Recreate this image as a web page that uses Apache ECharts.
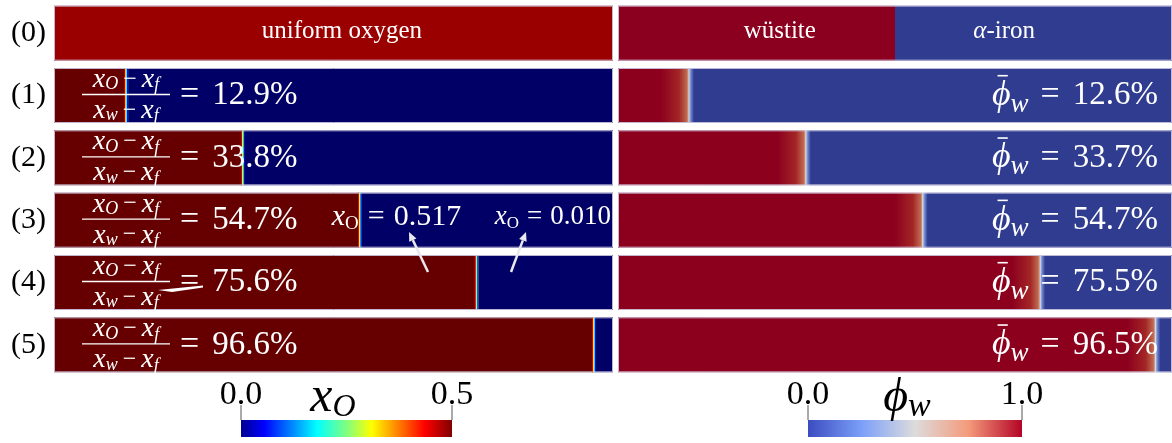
<!DOCTYPE html>
<html><head><meta charset="utf-8">
<script src="https://cdn.jsdelivr.net/npm/echarts@6/dist/echarts.min.js"></script>
<style>html,body{margin:0;padding:0;background:#fff}#c{width:1172px;height:443px}</style>
</head><body><div id="c"></div>
<script>
// ---------------- data ----------------
const rowLabels = ['(0)', '(1)', '(2)', '(3)', '(4)', '(5)'];
const oxygenFront = [100, 12.9, 33.8, 54.7, 75.6, 96.6];      // % of length where x_O drops
const oxygenRatio = ['', '12.9%', '33.8%', '54.7%', '75.6%', '96.6%'];
const wustiteFront = [50, 12.8, 33.9, 55.0, 76.2, 97.0];      // % of length of wüstite front
const wustiteFraction = ['', '12.6%', '33.7%', '54.7%', '75.5%', '96.5%'];
const row0Left = 'uniform oxygen';
const row0Right = ['wüstite', 'α', '-iron'];
const markerValues = ['0.517', '0.010'];
const xoTicks = ['0.0', '0.5'];
const phiTicks = ['0.0', '1.0'];

// ---------------- helpers ----------------
const FAM = 'Liberation Serif';
const ctx = document.createElement('canvas').getContext('2d');
function fontStr(p) { return (p.it ? 'italic ' : '') + p.s + 'px "' + FAM + '"'; }
function mathText(x, y, parts, align, fill) {
  fill = fill || '#fff';
  let w = 0;
  parts.forEach(p => { ctx.font = fontStr(p); p.tw = ctx.measureText(p.t).width; p.w = p.tw + (p.pre || 0) + (p.post || 0); w += p.w; });
  let cx = align === 'right' ? x - w : align === 'center' ? x - w / 2 : x;
  const els = [];
  parts.forEach(p => {
    const tx = cx + (p.pre || 0);
    els.push({ type: 'text', silent: true, style: { legacy: false, x: tx, y: y + (p.dy || 0), text: p.t, fontFamily: FAM, fontSize: p.s, fontStyle: p.it ? 'italic' : 'normal', fill: fill, align: 'left', verticalAlign: 'middle' } });
    if (p.bar) {
      const by = y + (p.dy || 0) - p.s * 0.55;
      els.push({ type: 'line', silent: true, shape: { x1: tx + p.tw * 0.3, y1: by, x2: tx + p.tw * 0.85, y2: by }, style: { stroke: fill, lineWidth: 1.6 } });
    }
    cx += p.w;
  });
  return els;
}
function rect(x, y, w, h, fill) {
  return { type: 'rect', silent: true, shape: { x: x, y: y, width: w, height: h }, style: { fill: fill } };
}
function outline(x, y, w, h) {
  return { type: 'rect', silent: true, shape: { x: x + 0.5, y: y + 0.5, width: w - 1, height: h - 1 }, style: { fill: 'none', stroke: 'rgba(205,200,225,0.9)', lineWidth: 1 } };
}
const LG = (stops) => new echarts.graphic.LinearGradient(0, 0, 1, 0, stops.map(s => ({ offset: s[0], color: s[1] })));
const BAR_H = 55;
const frac = (sub) => [{ t: 'x', s: 28, it: 1 }, { t: sub, s: 18, it: 1, dy: 5 }, { t: '−', s: 24, pre: 5, post: 5 }, { t: 'x', s: 28, it: 1 }, { t: 'f', s: 18, it: 1, dy: 6 }];

function renderLeft(params, api) {
  const i = api.value(0), p = api.value(1);
  const s = api.coord([0, i]), x0 = s[0], yc = s[1];
  const x1 = api.coord([100, i])[0];
  const y = yc - BAR_H / 2;
  const ch = [];
  if (i === 0) {
    ch.push(rect(x0, y, x1 - x0, BAR_H, '#9b0000'));
    ch.push(outline(x0, y, x1 - x0, BAR_H));
    ch.push(...mathText(x0 + (x1 - x0) * 0.515, yc - 2, [{ t: row0Left, s: 25 }], 'center'));
  } else {
    const xm = api.coord([p, i])[0];
    ch.push(rect(x0, y, xm - x0, BAR_H, '#660000'));
    ch.push(rect(xm + 2, y, x1 - xm - 2, BAR_H, '#000066'));
    ch.push({ type: 'rect', silent: true, shape: { x: xm - 2, y: y, width: 4, height: BAR_H },
      style: { fill: LG([[0, '#660000'], [0.2, '#ff0000'], [0.4, '#ffff00'], [0.6, '#00ffff'], [0.8, '#0000ff'], [1, '#000066']]) } });
    ch.push(outline(x0, y, x1 - x0, BAR_H));
    const fx = x0 + 72;
    ch.push(...mathText(fx, yc - 16, frac('O'), 'center'));
    ch.push(...mathText(fx, yc + 15, frac('w'), 'center'));
    ch.push({ type: 'line', silent: true, shape: { x1: fx - 44, y1: yc - 1, x2: fx + 44, y2: yc - 1 }, style: { stroke: '#fff', lineWidth: 1.4 } });
    ch.push(...mathText(x0 + 126, yc, [{ t: '=', s: 34, post: 13 }, { t: oxygenRatio[i], s: 33 }], 'left'));
    if (i === 3) {
      ch.push(...mathText(xm - 28, yc - 3, [{ t: 'x', s: 30, it: 1 }, { t: 'O', s: 19, dy: 7 }, { t: '=', s: 30, pre: 9, post: 9 }, { t: markerValues[0], s: 30 }], 'left'));
      ch.push(...mathText(x1 - 2, yc - 3, [{ t: 'x', s: 27, it: 1 }, { t: 'O', s: 17, dy: 6 }, { t: '=', s: 27, pre: 8, post: 8 }, { t: markerValues[1], s: 27 }], 'right'));
    }
  }
  return { type: 'group', children: ch };
}

function renderRight(params, api) {
  const i = api.value(0), p = api.value(1);
  const s = api.coord([0, i]), x0 = s[0], yc = s[1];
  const x1 = api.coord([100, i])[0];
  const xm = api.coord([p, i])[0];
  const y = yc - BAR_H / 2;
  const ch = [];
  if (i === 0) {
    ch.push(rect(x0, y, xm - x0, BAR_H, '#8b001f'));
    ch.push(rect(xm, y, x1 - xm, BAR_H, '#2f3c8f'));
    ch.push(outline(x0, y, x1 - x0, BAR_H));
    ch.push(...mathText(x0 + (x1 - x0) * 0.292, yc - 2, [{ t: row0Right[0], s: 25 }], 'center'));
    ch.push(...mathText(x0 + (x1 - x0) * 0.697, yc - 2, [{ t: row0Right[1], s: 25, it: 1 }, { t: row0Right[2], s: 25 }], 'center'));
  } else {
    const rw = xm - x0, g = Math.min(28 / rw, 0.9);
    ch.push({ type: 'rect', silent: true, shape: { x: x0, y: y, width: rw, height: BAR_H },
      style: { fill: LG([[0, '#8c001e'], [1 - g, '#8c001e'], [1 - g * 0.35, '#a32626'], [1 - 2 / rw, '#c06a52'], [1, '#dcc0a8']]) } });
    const bw = x1 - xm;
    ch.push({ type: 'rect', silent: true, shape: { x: xm, y: y, width: bw, height: BAR_H },
      style: { fill: LG([[0, '#c9d2ec'], [Math.min(2 / bw, 0.5), '#6f86d0'], [Math.min(5 / bw, 0.8), '#2f3c8f'], [1, '#2f3c8f']]) } });
    ch.push(outline(x0, y, x1 - x0, BAR_H));
    ch.push(...mathText(x1 - 14, yc, [{ t: 'ϕ', s: 36, it: 1, bar: 1 }, { t: 'w', s: 27, it: 1, dy: 9 }, { t: '=', s: 34, pre: 12, post: 13 }, { t: wustiteFraction[i], s: 33 }], 'right'));
  }
  return { type: 'group', children: ch };
}

// ---------------- static annotations ----------------
function arrow(x1, y1, x2, y2) {
  const a = Math.atan2(y2 - y1, x2 - x1), L = 9, W = 4;
  const bx = x2 - L * Math.cos(a), by = y2 - L * Math.sin(a);
  return [
    { type: 'line', shape: { x1: x1, y1: y1, x2: bx, y2: by }, style: { stroke: '#e8e8ee', lineWidth: 2.5 } },
    { type: 'polygon', shape: { points: [[x2, y2], [bx + W * Math.sin(a), by - W * Math.cos(a)], [bx - W * Math.sin(a), by + W * Math.cos(a)]] }, style: { fill: '#e8e8ee' } }
  ];
}
const jetStops = [[0, '#00008f'], [0.11, '#0000ff'], [0.36, '#00ffff'], [0.5, '#7fff80'], [0.62, '#ffff00'], [0.87, '#ff0000'], [1, '#800000']];
const cwStops = [[0, '#3b4cc0'], [0.25, '#7b9ff9'], [0.5, '#dddcdc'], [0.75, '#f49a7b'], [1, '#b40426']];
function colorbar(xa, xb, ticks, sym, stops) {
  const els = [];
  els.push({ type: 'rect', shape: { x: xa, y: 420, width: xb - xa, height: 17 }, style: { fill: LG(stops) } });
  els.push({ type: 'line', shape: { x1: xa, y1: 405, x2: xa, y2: 420 }, style: { stroke: '#555', lineWidth: 1 } });
  els.push({ type: 'line', shape: { x1: xb, y1: 405, x2: xb, y2: 420 }, style: { stroke: '#555', lineWidth: 1 } });
  els.push(...mathText(xa, 395, [{ t: ticks[0], s: 34 }], 'center', '#000'));
  els.push(...mathText(xb, 395, [{ t: ticks[1], s: 34 }], 'center', '#000'));
  els.push(...mathText(sym.x, 398, sym.parts, 'center', '#000'));
  return els;
}
const graphics = [].concat(
  arrow(428, 272, 409, 232),
  arrow(511, 272, 526, 232),
  [{ type: 'polygon', shape: { points: [[158, 290], [203, 285.5], [203, 287.5], [172, 292]] }, style: { fill: '#fff' } }],
  colorbar(241, 452, xoTicks, { x: 333, parts: [{ t: 'x', s: 50, it: 1 }, { t: 'O', s: 32, it: 1, dy: 10 }] }, jetStops),
  colorbar(808, 1022, phiTicks, { x: 907, parts: [{ t: 'ϕ', s: 48, it: 1 }, { t: 'w', s: 34, it: 1, dy: 9 }] }, cwStops)
);

const chart = echarts.init(document.getElementById('c'), null, { renderer: 'canvas' });
const makeY = (idx, show) => ({
  type: 'category', gridIndex: idx, data: rowLabels, inverse: true,
  axisLine: { show: false }, axisTick: { show: false }, splitLine: { show: false },
  axisLabel: { show: show, fontFamily: FAM, fontSize: 30, color: '#000', margin: 8 }
});
const makeX = (idx) => ({ type: 'value', gridIndex: idx, min: 0, max: 100, show: false });
chart.setOption({
  animation: false,
  backgroundColor: '#fff',
  textStyle: { fontFamily: FAM },
  grid: [
    { left: 54, width: 559, top: 2, height: 374 },
    { left: 618, width: 554, top: 2, height: 374 }
  ],
  xAxis: [makeX(0), makeX(1)],
  yAxis: [makeY(0, true), makeY(1, false)],
  series: [
    { type: 'custom', xAxisIndex: 0, yAxisIndex: 0, renderItem: renderLeft, encode: { x: 1, y: 0 },
      data: rowLabels.map((r, i) => [i, oxygenFront[i]]) },
    { type: 'custom', xAxisIndex: 1, yAxisIndex: 1, renderItem: renderRight, encode: { x: 1, y: 0 },
      data: rowLabels.map((r, i) => [i, wustiteFront[i]]) }
  ],
  graphic: graphics.map(g => Object.assign({ silent: true, z: 100 }, g))
});
</script></body></html>
